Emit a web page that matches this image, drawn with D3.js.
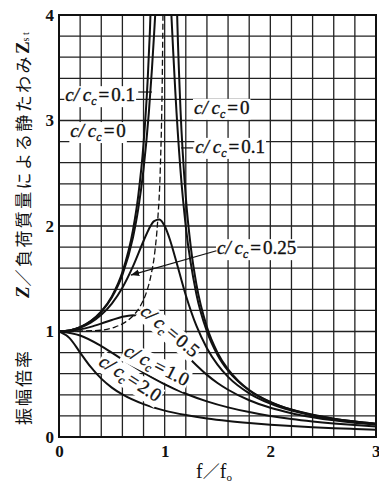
<!DOCTYPE html>
<html>
<head>
<meta charset="utf-8">
<script src="https://cdn.jsdelivr.net/npm/d3@7"></script>
<style>
body { margin:0; background:#fff; }
svg { display:block; }
</style>
</head>
<body>
<div id="chart"></div>
<script>
/////////////////////////////////////////////////////////////////
///////////////////// data /////////////////
/////////////////////////////////////////////////////////////////
// each point is [f/fo, Z/Zst]
var zeta0Left = [[0,1],[0.1,1.010],[0.2,1.042],[0.3,1.099],[0.4,1.190],[0.5,1.333],[0.6,1.563],
  [0.7,1.961],[0.75,2.286],[0.8,2.778],[0.84,3.40],[0.86,3.84],[0.88,4.43]];
var zeta0Right = [[1.1,4.76],[1.12,3.93],[1.15,3.10],[1.2,2.273],[1.25,1.778],[1.3,1.449],[1.4,1.042],
  [1.5,0.800],[1.6,0.641],[1.7,0.529],[1.8,0.446],[2.0,0.333],[2.2,0.260],[2.4,0.210],[2.6,0.174],
  [2.8,0.146],[3.0,0.125]];
var zeta01 = [[0,1],[0.1,1.010],[0.2,1.041],[0.3,1.097],[0.4,1.185],[0.5,1.322],[0.6,1.536],[0.7,1.891],
  [0.75,2.162],[0.8,2.538],[0.85,3.073],[0.88,3.494],[0.9,3.821],[0.92,4.17],[0.95,4.68],[1.0,5.0],
  [1.03,4.66],[1.06,4.075],[1.08,3.667],[1.1,3.288],[1.15,2.525],[1.2,1.995],[1.3,1.356],[1.4,1.0],
  [1.5,0.778],[1.6,0.628],[1.8,0.441],[2.0,0.330],[2.2,0.259],[2.4,0.209],[2.6,0.173],[2.8,0.146],[3.0,0.125]];
var zeta025 = [[0,1],[0.1,1.009],[0.2,1.036],[0.3,1.084],[0.4,1.158],[0.5,1.265],[0.6,1.415],[0.7,1.617],
  [0.8,1.858],[0.85,1.970],[0.9,2.047],[0.95,2.062],[1.0,2.0],[1.05,1.870],[1.1,1.699],[1.2,1.344],
  [1.3,1.055],[1.4,0.842],[1.5,0.686],[1.6,0.570],[1.8,0.414],[2.0,0.316],[2.2,0.250],[2.4,0.204],
  [2.6,0.169],[2.8,0.143],[3.0,0.123]];
var zeta05 = [[0,1],[0.1,1.005],[0.2,1.020],[0.3,1.044],[0.4,1.075],[0.5,1.109],[0.6,1.140],[0.7,1.155],
  [0.8,1.140],[0.9,1.087],[1.0,1.0],[1.1,0.893],[1.2,0.782],[1.3,0.680],[1.4,0.589],[1.5,0.512],
  [1.6,0.448],[1.8,0.348],[2.0,0.277],[2.2,0.226],[2.4,0.188],[2.6,0.158],[2.8,0.135],[3.0,0.117]];
var zeta10 = [[0,1],[0.2,0.962],[0.4,0.862],[0.6,0.735],[0.8,0.610],[1.0,0.5],[1.2,0.410],[1.4,0.338],
  [1.6,0.281],[1.8,0.236],[2.0,0.2],[2.2,0.171],[2.4,0.148],[2.6,0.129],[2.8,0.113],[3.0,0.1]];
var zeta20 = [[0,1],[0.1,0.937],[0.2,0.800],[0.3,0.664],[0.4,0.553],[0.5,0.468],[0.6,0.403],[0.8,0.311],
  [1.0,0.25],[1.2,0.208],[1.4,0.176],[1.6,0.152],[1.8,0.133],[2.0,0.117],[2.2,0.104],[2.4,0.093],
  [2.6,0.084],[2.8,0.076],[3.0,0.069]];
// dashed curve through the resonance peaks
var peakLocus = [[0,1],[0.394,1.012],[0.529,1.042],[0.628,1.089],[0.707,1.155],[0.771,1.244],[0.825,1.364],
  [0.869,1.525],[0.906,1.747],[0.935,2.066],[0.959,2.552],[0.977,3.372],[0.986,4.20]];

var xTicks = [0,1,2,3];
var yTicks = [0,1,2,3,4];

// labels: text, position (data units), rotation
var labelText = ["0.1","0","0","0.1","0.25","0.5","1.0","2.0"];
var labelPos = [[0.39,3.24],[0.37,2.90],[1.54,3.12],[1.62,2.75],[1.87,1.79],[1.05,1.005],[0.925,0.68],[0.675,0.556]];
var labelRot = [0,0,0,0,0,40,27,33];

/////////////////////////////////////////////////////////////////
///////////////////// canvas ///////////////////////////////////
/////////////////////////////////////////////////////////////////
var wdim = 379, hdim = 489;
var x = d3.scaleLinear().domain([0,3]).range([59,376]);
var y = d3.scaleLinear().domain([0,4]).range([437,15]);
var ink = "#111";
var serif = "'Liberation Serif', 'DejaVu Serif', serif";

var svg = d3.select("#chart").append("svg")
  .attr("width", wdim).attr("height", hdim);

svg.append("defs").append("clipPath").attr("id","plotclip")
  .append("rect").attr("x", x(0)).attr("y", y(4))
  .attr("width", x(3)-x(0)).attr("height", y(0)-y(4));

svg.select("defs").append("marker")
  .attr("id","arrow").attr("viewBox","0 0 10 10")
  .attr("refX",10).attr("refY",5)
  .attr("markerWidth",7).attr("markerHeight",7)
  .attr("orient","auto")
  .append("path").attr("d","M0,1 L10,5 L0,9 z").attr("fill",ink);

// grid every 0.2
var gx = d3.range(0, 3.01, 0.2), gy = d3.range(0, 4.01, 0.2);
svg.append("g").selectAll("line").data(gx).enter().append("line")
  .attr("x1", d => x(d)).attr("x2", d => x(d))
  .attr("y1", y(0)).attr("y2", y(4))
  .attr("stroke", "#222").attr("stroke-width", 1.3);
svg.append("g").selectAll("line").data(gy).enter().append("line")
  .attr("x1", x(0)).attr("x2", x(3))
  .attr("y1", d => y(d)).attr("y2", d => y(d))
  .attr("stroke", "#222").attr("stroke-width", 1.3);

svg.append("rect").attr("x", x(0)).attr("y", y(4))
  .attr("width", x(3)-x(0)).attr("height", y(0)-y(4))
  .attr("fill","none").attr("stroke",ink).attr("stroke-width",2);

/////////////////////////////////////////////////////////////////
///////////////////// curves ///////////////////////////////////
/////////////////////////////////////////////////////////////////
var line = d3.line().x(d => x(d[0])).y(d => y(d[1])).curve(d3.curveMonotoneX);
var curves = svg.append("g").attr("clip-path","url(#plotclip)");
[zeta0Left, zeta0Right, zeta01, zeta025, zeta05, zeta10, zeta20].forEach(function(s){
  curves.append("path").attr("d", line(s))
    .attr("fill","none").attr("stroke",ink).attr("stroke-width",2);
});
curves.append("path").attr("d", line(peakLocus))
  .attr("fill","none").attr("stroke",ink).attr("stroke-width",1.3)
  .attr("stroke-dasharray","6,3");

/////////////////////////////////////////////////////////////////
///////////////////// labels ///////////////////////////////////
/////////////////////////////////////////////////////////////////
function add_label(txt, pos, rot){
  var g = svg.append("g")
    .attr("transform","translate("+x(pos[0])+","+y(pos[1])+") rotate("+rot+")");
  var bg = g.append("rect").attr("fill","#fff");
  var t = g.append("text").attr("y",6).attr("text-anchor","middle")
    .style("font-family",serif).style("font-size","19px")
    .attr("fill",ink).attr("stroke",ink).attr("stroke-width",0.35);
  t.append("tspan").style("font-style","italic").text("c/\u2009c");
  t.append("tspan").style("font-style","italic").style("font-size","12px").attr("dy",4).text("c");
  t.append("tspan").attr("dy",-4).attr("dx",2).text("=");
  t.append("tspan").attr("dx",2).text(txt);
  var b = t.node().getBBox();
  bg.attr("x", b.x-1).attr("y", b.y+2).attr("width", b.width+2).attr("height", b.height-3);
}
labelText.forEach(function(d,i){ add_label(d, labelPos[i], labelRot[i]); });

// leader lines
svg.append("line").attr("x1", x(0.75)).attr("x2", x(0.88))
  .attr("y1", y(3.27)).attr("y2", y(3.27)).attr("stroke",ink).attr("stroke-width",1.2);
svg.append("line").attr("x1", x(1.155)).attr("x2", x(1.27))
  .attr("y1", y(2.74)).attr("y2", y(2.74)).attr("stroke",ink).attr("stroke-width",1.2);
svg.append("line").attr("x1", x(1.49)).attr("y1", y(1.765))
  .attr("x2", x(0.68)).attr("y2", y(1.535))
  .attr("stroke",ink).attr("stroke-width",1.2).attr("marker-end","url(#arrow)");

/////////////////////////////////////////////////////////////////
///////////////////// axes /////////////////////////////////////
/////////////////////////////////////////////////////////////////
var axL = svg.append("g").attr("transform","translate("+x(0)+",0)")
  .call(d3.axisLeft(y).tickValues(yTicks).tickSize(0).tickPadding(5).tickFormat(d3.format("d")));
var axB = svg.append("g").attr("transform","translate(0,"+y(0)+")")
  .call(d3.axisBottom(x).tickValues(xTicks).tickSize(0).tickPadding(8).tickFormat(d3.format("d")));
[axL, axB].forEach(function(a){
  a.select(".domain").remove();
  a.selectAll("text").attr("fill",ink)
    .style("font-family",serif)
    .style("font-size","17px").style("font-weight","bold");
});
// last x label sits on the right edge of the page
axB.selectAll("text").filter(d => d == 3).attr("text-anchor","end").attr("dx", 4);

// x title
var xt = svg.append("text").attr("x", 214).attr("y", 478).attr("text-anchor","middle")
  .attr("fill",ink).style("font-family",serif).style("font-size","20px");
xt.append("tspan").text("f");
xt.append("tspan").style("font-family","'Noto Sans CJK JP'").style("font-size","17px").text("／");
xt.append("tspan").text("f");
xt.append("tspan").style("font-size","11px").attr("dy",3).text("o");

// y title
var cjk = "'Noto Sans CJK JP', sans-serif";
svg.append("text").attr("transform","translate(22,387) rotate(-90)")
  .attr("text-anchor","middle").attr("dominant-baseline","central")
  .attr("fill",ink).style("font-family",cjk).style("font-size","17px")
  .style("letter-spacing","2px").text("振幅倍率");
var yt = svg.append("text").attr("transform","translate(22,298) rotate(-90)")
  .attr("dominant-baseline","central").attr("fill",ink)
  .style("font-size","17px");
yt.append("tspan").style("font-family",serif).style("font-weight","bold")
  .style("font-style","italic").style("font-size","19px").text("Z");
yt.append("tspan").style("font-family",cjk).style("letter-spacing","2.4px").text("／負荷質量による静たわみ");
yt.append("tspan").style("font-family",serif).style("font-weight","bold")
  .style("font-size","19px").text("Z");
yt.append("tspan").style("font-family",serif).style("font-size","10px")
  .attr("dy",3).text("s t");
</script>
</body>
</html>
